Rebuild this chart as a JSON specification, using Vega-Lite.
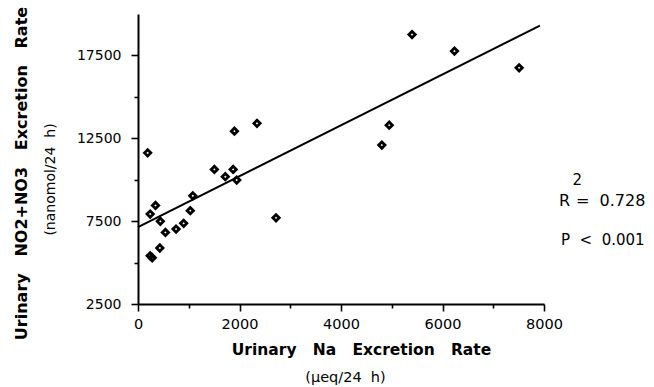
{
  "$schema": "https://vega.github.io/schema/vega-lite/v6.json",
  "width": 406,
  "height": 290,
  "autosize": "none",
  "padding": {"left": 138, "top": 14, "right": 110, "bottom": 83},
  "background": "white",
  "config": {
    "view": {"stroke": null},
    "axis": {
      "grid": false,
      "domainColor": "black",
      "tickColor": "black",
      "labelColor": "black",
      "titleColor": "black",
      "labelFont": "DejaVu Sans",
      "titleFont": "DejaVu Sans",
      "domainWidth": 2,
      "tickWidth": 1.6
    }
  },
  "datasets": {
    "pts": [
      {"na": 190, "nox": 11620},
      {"na": 240, "nox": 7930},
      {"na": 345, "nox": 8450},
      {"na": 440, "nox": 7490},
      {"na": 540, "nox": 6820},
      {"na": 240, "nox": 5410},
      {"na": 280, "nox": 5290},
      {"na": 430, "nox": 5880},
      {"na": 750, "nox": 7020},
      {"na": 900, "nox": 7370},
      {"na": 1030, "nox": 8130},
      {"na": 1080, "nox": 9030},
      {"na": 1505, "nox": 10620},
      {"na": 1720, "nox": 10180},
      {"na": 1875, "nox": 10620},
      {"na": 1945, "nox": 9980},
      {"na": 1900, "nox": 12930},
      {"na": 2345, "nox": 13400},
      {"na": 2720, "nox": 7700},
      {"na": 4805, "nox": 12090},
      {"na": 4950, "nox": 13290},
      {"na": 5400, "nox": 18760},
      {"na": 6235, "nox": 17760},
      {"na": 7510, "nox": 16750}
    ],
    "fit": [
      {"na": 0, "nox": 7140},
      {"na": 7920, "nox": 19300}
    ],
    "notes": [
      {"na": 8295, "nox": 8711, "t": "R", "s": 16},
      {"na": 8560, "nox": 9980, "t": "2", "s": 15},
      {"na": 8630, "nox": 8711, "t": "=\u00a0\u00a00.728", "s": 16},
      {"na": 8334, "nox": 6360, "t": "P\u00a0\u00a0<\u00a0\u00a00.001", "s": 15}
    ]
  },
  "layer": [
    {
      "data": {"name": "pts"},
      "mark": {"type": "point", "shape": "diamond", "filled": false, "stroke": "black", "strokeWidth": 2.8, "size": 40, "opacity": 1},
      "encoding": {
        "x": {
          "field": "na", "type": "quantitative",
          "scale": {"domain": [0, 8000], "nice": false, "zero": false},
          "axis": {"orient": "bottom", "values": [0, 2000, 4000, 6000, 8000], "format": "d", "tickSize": 7, "labelPadding": 6, "labelFontSize": 14.5, "labelFlush": false,
                   "title": "Urinary\u00a0\u00a0\u00a0Na\u00a0\u00a0\u00a0Excretion\u00a0\u00a0\u00a0Rate", "titleFontWeight": "bold", "titleFontSize": 15.5, "titlePadding": 12, "titleX": 223}
        },
        "y": {
          "field": "nox", "type": "quantitative",
          "scale": {"domain": [2500, 20000], "nice": false, "zero": false},
          "axis": {"orient": "left", "values": [2500, 7500, 12500, 17500], "format": "d", "tickSize": 7, "labelPadding": 10, "labelFontSize": 14, "labelFlush": false,
                   "title": "Urinary\u00a0\u00a0\u00a0NO2+NO3\u00a0\u00a0\u00a0Excretion\u00a0\u00a0\u00a0Rate", "titleFontWeight": "bold", "titleFontSize": 16, "titlePadding": 47, "titleY": 159}
        }
      }
    },
    {
      "data": {"name": "fit"},
      "mark": {"type": "line", "color": "black", "strokeWidth": 2},
      "encoding": {
        "x": {
          "field": "na", "type": "quantitative",
          "axis": {"orient": "bottom", "values": [1000, 3000, 5000, 7000], "tickSize": 4, "labels": false, "domain": false,
                   "title": "(μeq/24\u00a0\u00a0h)", "titleFontWeight": "normal", "titleFontSize": 14.5, "titlePadding": 62, "titleX": 207}
        },
        "y": {
          "field": "nox", "type": "quantitative",
          "axis": {"orient": "left", "values": [5000, 10000, 15000], "tickSize": 4, "labels": false, "domain": false,
                   "title": "(nanomol/24\u00a0\u00a0h)", "titleFontWeight": "normal", "titleFontSize": 14, "titlePadding": 76, "titleY": 165}
        }
      }
    },
    {
      "data": {"name": "notes"},
      "mark": {"type": "text", "align": "left", "baseline": "middle", "font": "DejaVu Sans", "color": "black"},
      "encoding": {
        "x": {"field": "na", "type": "quantitative", "axis": null},
        "y": {"field": "nox", "type": "quantitative", "axis": null},
        "text": {"field": "t"},
        "size": {"field": "s", "type": "quantitative", "scale": null, "legend": null}
      }
    }
  ],
  "resolve": {"axis": {"x": "independent", "y": "independent"}}
}
